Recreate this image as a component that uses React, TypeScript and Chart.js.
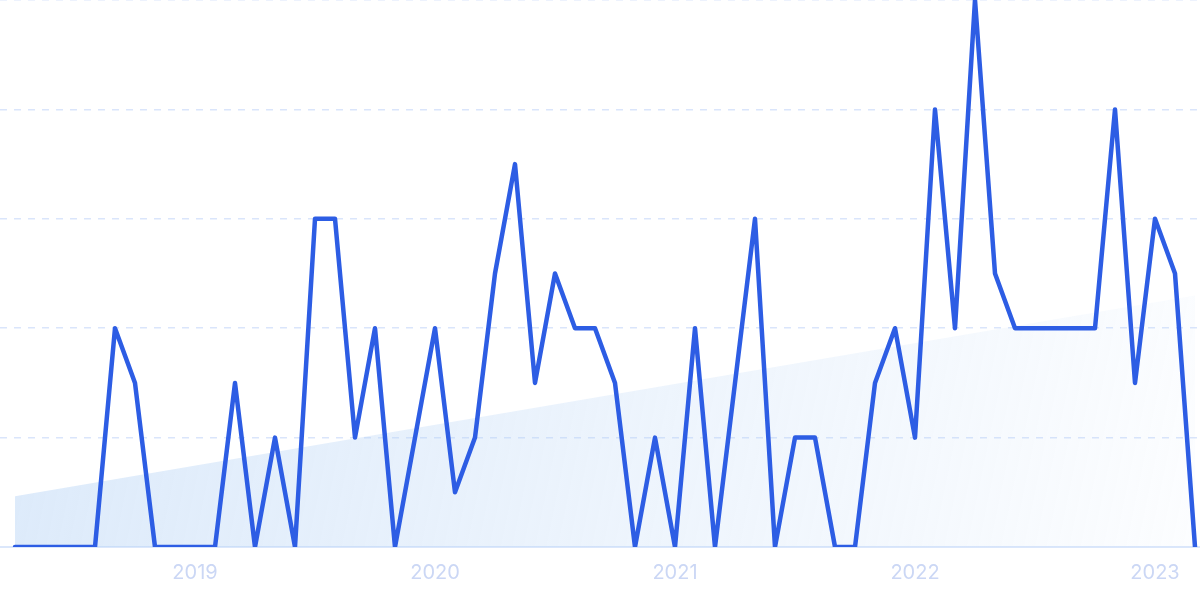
import React, { useEffect, useRef } from "react";
import { Chart, registerables } from "chart.js";

Chart.register(...registerables);

const months: string[] = [
  "2018-04", "2018-05", "2018-06", "2018-07", "2018-08", "2018-09", "2018-10", "2018-11", "2018-12",
  "2019-01", "2019-02", "2019-03", "2019-04", "2019-05", "2019-06", "2019-07", "2019-08", "2019-09", "2019-10", "2019-11", "2019-12",
  "2020-01", "2020-02", "2020-03", "2020-04", "2020-05", "2020-06", "2020-07", "2020-08", "2020-09", "2020-10", "2020-11", "2020-12",
  "2021-01", "2021-02", "2021-03", "2021-04", "2021-05", "2021-06", "2021-07", "2021-08", "2021-09", "2021-10", "2021-11", "2021-12",
  "2022-01", "2022-02", "2022-03", "2022-04", "2022-05", "2022-06", "2022-07", "2022-08", "2022-09", "2022-10", "2022-11", "2022-12",
  "2023-01", "2023-02", "2023-03",
];

const values: number[] = [
  0, 0, 0, 0, 0, 4, 3, 0, 0,
  0, 0, 3, 0, 2, 0, 6, 6, 2, 4, 0, 2,
  4, 1, 2, 5, 7, 3, 5, 4, 4, 3, 0, 2,
  0, 4, 0, 3, 6, 0, 2, 2, 0, 0, 3, 4,
  2, 8, 4, 10, 5, 4, 4, 4, 4, 4, 8, 3,
  6, 5, 0,
];

// trend line (start / end)
const trendMonths: string[] = ["2018-04", "2023-03"];
const trendValues: number[] = [0.93, 4.6];

const yTicks: number[] = [0, 2, 4, 6, 8, 10];

export default function App() {
  const ref = useRef<HTMLCanvasElement | null>(null);

  useEffect(() => {
    if (!ref.current) return;
    const idx = (m: string) => months.indexOf(m);
    const yearTickIdx = months
      .map((m, i) => (m.endsWith("-01") ? i : -1))
      .filter((i) => i >= 0);

    const chart = new Chart(ref.current, {
      type: "line",
      data: {
        datasets: [
          {
            label: "values",
            data: values.map((v, i) => ({ x: i, y: v })),
            borderColor: "#2d5de4",
            borderWidth: 4.5,
            pointRadius: 0,
            tension: 0,
            fill: false,
            borderJoinStyle: "round",
            borderCapStyle: "round",
          },
          {
            label: "trend",
            data: trendMonths.map((m, i) => ({ x: idx(m), y: trendValues[i] })),
            borderWidth: 0,
            borderColor: "rgba(0,0,0,0)",
            pointRadius: 0,
            fill: "origin",
            backgroundColor: (c: any) => {
              const chart = c.chart;
              const area = chart.chartArea;
              if (!area) return "rgba(180,210,245,0.3)";
              const g = chart.ctx.createLinearGradient(
                area.left,
                area.top + (area.bottom - area.top) * 0.55,
                area.right,
                area.bottom
              );
              g.addColorStop(0, "rgba(180,210,245,0.47)");
              g.addColorStop(1, "rgba(180,210,245,0.04)");
              return g;
            },
          },
        ],
      },
      options: {
        animation: false,
        responsive: true,
        maintainAspectRatio: false,
        layout: { padding: { left: 0, right: 0, top: 0, bottom: 0 } },
        plugins: { legend: { display: false }, tooltip: { enabled: false } },
        scales: {
          x: {
            type: "linear",
            min: -0.75,
            max: months.length - 0.75,
            afterBuildTicks: (scale: any) => {
              scale.ticks = yearTickIdx.map((v) => ({ value: v }));
            },
            ticks: {
              autoSkip: false,
              maxRotation: 0,
              padding: 14,
              color: "#cbd7f5",
              font: { family: "Inter", size: 20 },
              callback: (v: any) => {
                const m = months[Math.round(Number(v))];
                return m ? m.slice(0, 4) : "";
              },
            },
            grid: { display: false, drawTicks: false },
            border: { display: true, color: "#dbe7fb", width: 2 },
          },
          y: {
            min: 0,
            max: 10,
            afterBuildTicks: (scale: any) => {
              scale.ticks = yTicks.map((v) => ({ value: v }));
            },
            ticks: { display: false },
            grid: { color: "#dae5fb", lineWidth: 1.5, drawTicks: false },
            border: { display: false, dash: [7, 7] },
          },
        },
      },
    });
    return () => chart.destroy();
  }, []);

  return (
    <div style={{ position: "fixed", left: 0, top: 0, width: 1200, height: 599, background: "#fff" }}>
      <canvas ref={ref} />
    </div>
  );
}
